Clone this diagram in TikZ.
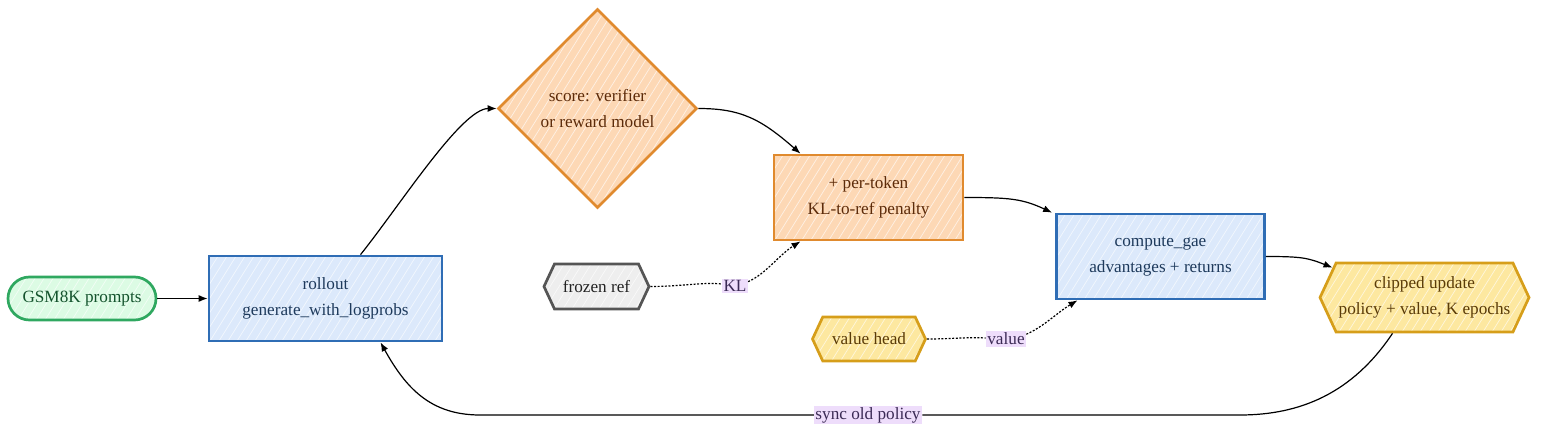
\documentclass[tikz,border=0pt]{standalone}
\usepackage{fontspec}
\setmainfont{Liberation Serif}
\usetikzlibrary{arrows.meta,shapes.geometric,shapes.misc,shapes.symbols,calc}
\definecolor{blueFill}{HTML}{DCE9FB}
\definecolor{blueLine}{HTML}{2F6DB5}
\definecolor{blueText}{HTML}{1E3A5C}
\definecolor{orangeFill}{HTML}{FDD8B5}
\definecolor{orangeLine}{HTML}{E08A2E}
\definecolor{orangeText}{HTML}{5C2B0A}
\definecolor{greenFill}{HTML}{DCFBE4}
\definecolor{greenLine}{HTML}{2FA860}
\definecolor{greenText}{HTML}{14532D}
\definecolor{grayFill}{HTML}{EEEEEE}
\definecolor{grayLine}{HTML}{555555}
\definecolor{grayText}{HTML}{222222}
\definecolor{yellowFill}{HTML}{FDE8A0}
\definecolor{yellowLine}{HTML}{D69E1A}
\definecolor{yellowText}{HTML}{5A3B08}
\definecolor{labelFill}{HTML}{EEDDFB}
\definecolor{labelText}{HTML}{3B2A55}
\tikzset{
  hatch/.style={path picture={
    \foreach \k in {-260,-251,...,260}
      \draw[white,line width=0.7pt,opacity=0.65]
        ([xshift=\k pt]path picture bounding box.south west) -- ++(58:420pt);}},
  base/.style={line width=2.7pt,align=center,inner sep=0pt,
    font=\fontsize{17.2}{26}\selectfont,hatch},
  bluebox/.style={base,rectangle,draw=blueLine,fill=blueFill,text=blueText},
  orangebox/.style={base,rectangle,draw=orangeLine,fill=orangeFill,text=orangeText},
  orangedia/.style={base,diamond,aspect=1,draw=orangeLine,fill=orangeFill,text=orangeText},
  greenpill/.style={base,rounded rectangle,draw=greenLine,fill=greenFill,text=greenText},
  hexa/.style={base,signal,signal to=west and east,signal pointer angle=130},
  grayhex/.style={hexa,draw=grayLine,fill=grayFill,text=grayText},
  yellowhex/.style={hexa,draw=yellowLine,fill=yellowFill,text=yellowText},
  line/.style={line width=1.2pt,black},
  conn/.style={line,-{Latex[length=9pt,width=7pt]}},
  dotline/.style={line,dash pattern=on 2pt off 1.6pt},
  dotconn/.style={conn,dash pattern=on 2pt off 1.6pt},
  lab/.style={fill=labelFill,text=labelText,inner sep=1.5pt,
    font=\fontsize{17.2}{20}\selectfont},
}
\begin{document}
\begin{tikzpicture}[x=1pt,y=1pt]
\useasboundingbox (0,0) rectangle (1568,-444);

\node[greenpill,minimum width=148pt,minimum height=43pt] (gsm) at (82,-298.5) {GSM8K prompts};
\node[bluebox,minimum width=233pt,minimum height=85pt] (rollout) at (325.5,-298.5) {rollout\\generate\_with\_logprobs};
\node[orangedia,minimum width=199pt,minimum height=199pt] (score) at (597.5,-108.5) {score: verifier\\or reward model};
\node[orangebox,minimum width=189pt,minimum height=85pt] (pen) at (868.5,-197.5) {+ per-token\\KL-to-ref penalty};
\node[grayhex,minimum width=105pt,minimum height=45pt] (frozen) at (596.5,-286.5) {frozen ref};
\node[bluebox,minimum width=208pt,minimum height=85pt] (gae) at (1160.5,-256.5) {compute\_gae\\advantages + returns};
\node[yellowhex,minimum width=209pt,minimum height=69pt] (clip) at (1424.5,-297.5) {clipped update\\policy + value, K epochs};
\node[yellowhex,minimum width=113pt,minimum height=44pt] (vhead) at (869,-339) {value head};

% edge labels
\node[lab] (kllab) at (735,-286) {KL};
\node[lab] (vallab) at (1006,-339) {value};
\node[lab] (synclab) at (868,-415) {sync old policy};
\coordinate (syncR) at (1240,-415);
\coordinate (syncL) at (480,-415);

% connectors
\draw[conn] (gsm.east) -- (rollout.west);
\draw[conn] ([xshift=35pt]rollout.north) .. controls +(40,50) and +(-35,0) .. (score.west);
\draw[conn] (score.east) .. controls +(42,0) and +(-40,35) .. ([xshift=-68pt]pen.north);
\draw[conn] (pen.east) .. controls +(45,0) and +(-30,14) .. ([xshift=-3pt]gae.north west);
\draw[conn] (gae.east) .. controls +(35,0) and +(-25,10) .. ([xshift=-92pt,yshift=-6pt]clip.north);
\draw[dotline] (frozen.east) .. controls +(30,0) and +(-20,2) .. ([yshift=2pt]kllab.west);
\draw[dotconn] ([yshift=-3pt]kllab.north east) .. controls +(18,8) and +(-22,-14) .. ([xshift=-68pt]pen.south);
\draw[dotline] (vhead.east) .. controls +(25,0) and +(-20,1) .. ([yshift=1pt]vallab.west);
\draw[dotconn] ([yshift=-3pt]vallab.north east) .. controls +(18,8) and +(-20,-12) .. ([xshift=-83pt]gae.south);
\draw[line] ([xshift=-32pt]clip.south) .. controls +(-40,-60) and +(60,0) .. (syncR) -- (synclab.east);
\draw[conn] (synclab.west) -- (syncL) .. controls +(-50,0) and +(25,-45) .. ([xshift=55pt]rollout.south);
\end{tikzpicture}
\end{document}
